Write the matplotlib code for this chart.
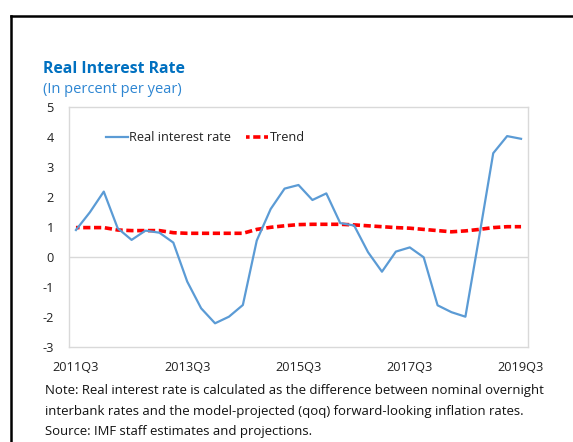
import matplotlib
matplotlib.use("Agg")
import matplotlib.pyplot as plt
from matplotlib.lines import Line2D

# Quarterly series, 2011Q3 .. 2019Q3
quarters = [f"{y}Q{q}" for y in range(2011, 2020) for q in range(1, 5)][2:35]
real_rate = [0.90, 1.49, 2.18, 0.96, 0.57, 0.88, 0.81, 0.48, -0.82, -1.71,
             -2.21, -1.99, -1.60, 0.55, 1.60, 2.28, 2.40, 1.90, 2.12, 1.13,
             1.05, 0.16, -0.49, 0.18, 0.32, -0.01, -1.61, -1.84, -1.99, 0.70,
             3.46, 4.03, 3.94]
trend = [0.98, 0.98, 0.98, 0.90, 0.88, 0.88, 0.88, 0.81, 0.79, 0.79,
         0.79, 0.79, 0.79, 0.92, 0.99, 1.04, 1.08, 1.09, 1.09, 1.09,
         1.07, 1.04, 1.01, 0.98, 0.96, 0.92, 0.88, 0.84, 0.87, 0.92,
         0.98, 1.01, 1.01]
tick_labels = ["2011Q3", "2013Q3", "2015Q3", "2017Q3", "2019Q3"]
yticks = [-3, -2, -1, 0, 1, 2, 3, 4, 5]

title = "Real Interest Rate"
subtitle = "(In percent per year)"
notes = ["Note: Real interest rate is calculated as the difference between nominal overnight",
         "interbank rates and the model-projected (qoq) forward-looking inflation rates.",
         "Source: IMF staff estimates and projections."]

plt.rcParams["font.family"] = ["Open Sans", "DejaVu Sans"]

W, H = 573, 442
fig = plt.figure(figsize=(W / 100, H / 100), dpi=100)
fig.patch.set_facecolor("white")

# outer frame (top and left edges visible)
fig.add_artist(Line2D([11 / W, 11 / W], [0, 1 - 16 / H], transform=fig.transFigure,
                      color="black", lw=1.8, solid_capstyle="projecting"))
fig.add_artist(Line2D([11 / W, 1], [1 - 16 / H, 1 - 16 / H], transform=fig.transFigure,
                      color="black", lw=1.8, solid_capstyle="projecting"))

ax = fig.add_axes([69 / W, 1 - 347 / H, (528 - 69) / W, (347 - 107) / H])
x = list(range(len(quarters)))

ax.axhline(0, color="#D9D9D9", lw=1.0, zorder=1)
ax.plot(x, real_rate, color="#5B9BD5", lw=1.6, label="Real interest rate", zorder=3)
ax.plot(x, trend, color="#FF0000", lw=2.6, linestyle=(1.0, (2.0, 1.0)), label="Trend", zorder=2)

ax.set_xlim(-0.5, len(quarters) - 0.5)
ax.set_ylim(-3, 5)
ax.set_yticks(yticks)
ax.set_yticklabels([str(v) for v in yticks])
ax.set_xticks([quarters.index(t) for t in tick_labels])
ax.set_xticklabels(tick_labels)
ax.tick_params(length=0, labelsize=9.2, colors="#222222")
ax.tick_params(axis="y", pad=11)
ax.tick_params(axis="x", pad=10)
for s in ax.spines.values():
    s.set_color("#D9D9D9")
    s.set_linewidth(1.0)

leg = ax.legend(loc="upper left", bbox_to_anchor=(0.07, 0.92), ncol=2, frameon=False,
                fontsize=9.2, handlelength=1.7, handletextpad=0.1, columnspacing=1.2,
                borderaxespad=0)
for t in leg.get_texts():
    t.set_color("#222222")

fig.text(43 / W, 1 - 73 / H, title, fontsize=11.4, fontweight="bold", color="#0070C0",
         ha="left", va="baseline")
fig.text(43 / W, 1 - 93 / H, subtitle, fontsize=10.5, color="#2E86D2",
         ha="left", va="baseline")

for i, line in enumerate(notes):
    fig.text(45 / W, 1 - (394 + 20.5 * i) / H, line, fontsize=9.45, color="#111111",
             ha="left", va="baseline")

fig.savefig("out.png", dpi=100)
